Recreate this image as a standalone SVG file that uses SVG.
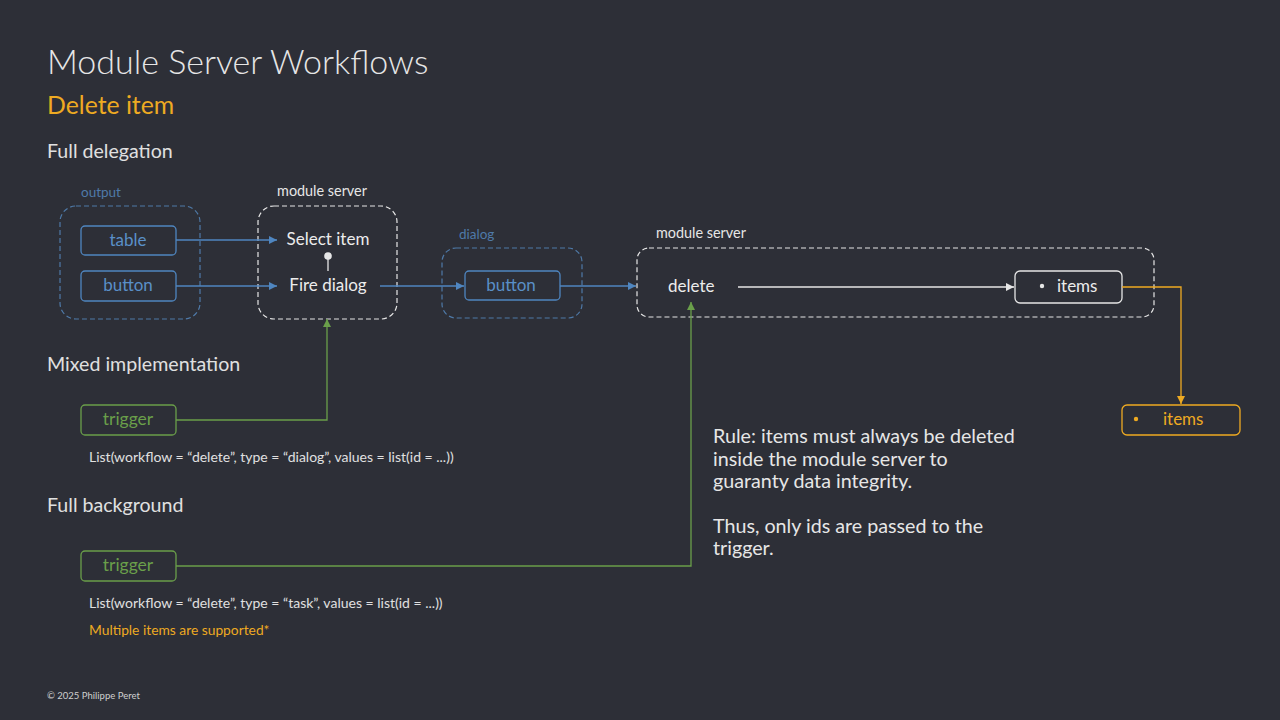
<svg xmlns="http://www.w3.org/2000/svg" width="1280" height="720" viewBox="0 0 1280 720">
<defs>
<style>
text{font-family:Lato,"Noto Sans",sans-serif}
.h1{font-size:34px;fill:#e6e6e6;font-weight:300}
.h2{font-size:24.8px;fill:#eeaa22}
.h3{font-size:19.6px;fill:#e0e0e0}
.lblb{font-size:13.5px;fill:#4f7aa8}
.lblw{font-size:14.4px;fill:#e6e6e6}
.grpb{fill:none;stroke:#4f7aa8;stroke-width:1.2;stroke-dasharray:5 3}
.grpw{fill:none;stroke:#e6e6e6;stroke-width:1.2;stroke-dasharray:5 3}
.boxb{fill:none;stroke:#4f86c0;stroke-width:1.3}
.tb{font-size:17px;fill:#5a8fc8;text-anchor:middle}
.tw{font-size:17px;fill:#ececec}
.boxg{fill:none;stroke:#6a9f4a;stroke-width:1.3}
.tg{font-size:17.5px;fill:#6a9f4a;text-anchor:middle}
.boxw{fill:none;stroke:#e6e6e6;stroke-width:1.3}
.boxo{fill:none;stroke:#eeaa22;stroke-width:1.3}
.to{font-size:17px;fill:#eeaa22}
.code{font-size:14px;fill:#e0e0e0}
.note{font-size:13.8px;fill:#eeaa22}
.rule{font-size:19.7px;fill:#e6e6e6}
.cb{fill:none;stroke:#4f86c0;stroke-width:1.3}
.cg{fill:none;stroke:#6a9f4a;stroke-width:1.3}
.cw{fill:none;stroke:#e6e6e6;stroke-width:1.3}
.co{fill:none;stroke:#eeaa22;stroke-width:1.3}
</style>
<marker id="ab" viewBox="0 0 10 10" refX="10" refY="5" markerWidth="8" markerHeight="8" markerUnits="userSpaceOnUse" orient="auto"><path d="M0,0L10,5L0,10z" fill="#4f86c0"/></marker>
<marker id="ag" viewBox="0 0 10 10" refX="10" refY="5" markerWidth="8" markerHeight="8" markerUnits="userSpaceOnUse" orient="auto"><path d="M0,0L10,5L0,10z" fill="#6a9f4a"/></marker>
<marker id="aw" viewBox="0 0 10 10" refX="10" refY="5" markerWidth="8" markerHeight="8" markerUnits="userSpaceOnUse" orient="auto"><path d="M0,0L10,5L0,10z" fill="#e6e6e6"/></marker>
<marker id="ao" viewBox="0 0 10 10" refX="10" refY="5" markerWidth="8" markerHeight="8" markerUnits="userSpaceOnUse" orient="auto"><path d="M0,0L10,5L0,10z" fill="#eeaa22"/></marker>
</defs>
<rect width="1280" height="720" fill="#2d2f37"/>

<text class="h1" x="47" y="74">Module Server Workflows</text>
<text class="h2" x="47" y="114">Delete item</text>
<text class="h3" x="47" y="158">Full delegation</text>
<text class="h3" x="47" y="371">Mixed implementation</text>
<text class="h3" x="47" y="512">Full background</text>

<g id="output-group">
<text class="lblb" x="81" y="197">output</text>
<rect class="grpb" x="60" y="206" width="140" height="113" rx="16"/>
</g>
<g id="table">
<rect class="boxb" x="81" y="226" width="95" height="29" rx="4"/>
<text class="tb" x="128" y="246">table</text>
</g>
<g id="button-output">
<rect class="boxb" x="81" y="271" width="95" height="30" rx="4"/>
<text class="tb" x="128" y="291">button</text>
</g>

<g id="module-server-1">
<text class="lblw" x="322" y="196" text-anchor="middle">module server</text>
<rect class="grpw" x="258" y="206" width="139" height="113" rx="16"/>
<text class="tw" x="328" y="245" text-anchor="middle">Select item</text>
<text class="tw" x="328" y="291" text-anchor="middle">Fire dialog</text>
<line x1="328" y1="256" x2="328" y2="271" stroke="#e6e6e6" stroke-width="1.3"/>
<circle cx="328" cy="256" r="3.8" fill="#e6e6e6"/>
</g>

<g id="dialog-group">
<text class="lblb" x="459" y="239">dialog</text>
<rect class="grpb" x="442" y="248" width="140" height="70" rx="14"/>
</g>
<g id="button-dialog">
<rect class="boxb" x="465" y="271" width="95" height="29" rx="4"/>
<text class="tb" x="511" y="291">button</text>
</g>

<g id="module-server-2">
<text class="lblw" x="656" y="238">module server</text>
<rect class="grpw" x="637" y="248" width="517" height="69" rx="12"/>
<text class="tw" x="668" y="292">delete</text>
</g>
<g id="items-white">
<rect class="boxw" x="1015" y="271" width="107" height="32" rx="5"/>
<circle cx="1042" cy="286" r="2.2" fill="#e6e6e6"/>
<text class="tw" x="1057" y="292">items</text>
</g>
<g id="items-orange">
<rect class="boxo" x="1122" y="405" width="118" height="30" rx="5"/>
<circle cx="1136" cy="419" r="2.2" fill="#eeaa22"/>
<text class="to" x="1163" y="425">items</text>
</g>

<g id="trigger-mixed">
<rect class="boxg" x="81" y="405" width="95" height="30" rx="4"/>
<text class="tg" x="128" y="425">trigger</text>
</g>
<g id="trigger-background">
<rect class="boxg" x="81" y="551" width="95" height="30" rx="4"/>
<text class="tg" x="128" y="571">trigger</text>
</g>

<g id="connectors">
<line class="cb" x1="176" y1="240" x2="277" y2="240" marker-end="url(#ab)"/>
<line class="cb" x1="176" y1="286" x2="277" y2="286" marker-end="url(#ab)"/>
<line class="cb" x1="380" y1="286" x2="464" y2="286" marker-end="url(#ab)"/>
<line class="cb" x1="560" y1="286" x2="636" y2="286" marker-end="url(#ab)"/>
<line class="cw" x1="738" y1="287" x2="1014" y2="287" marker-end="url(#aw)"/>
<polyline class="co" points="1122,287 1181,287 1181,404" marker-end="url(#ao)"/>
<polyline class="cg" points="176,420 327,420 327,319" marker-end="url(#ag)"/>
<polyline class="cg" points="176,566 691,566 691,302" marker-end="url(#ag)"/>
</g>

<text class="code" x="89" y="462">List(workflow = “delete”, type = “dialog”, values = list(id = ...))</text>
<text class="code" x="89" y="608">List(workflow = “delete”, type = “task”, values = list(id = ...))</text>
<text class="note" x="89" y="635">Multiple items are supported*</text>

<g id="rule-text">
<text class="rule" x="713" y="443">Rule: items must always be deleted</text>
<text class="rule" x="713" y="466">inside the module server to</text>
<text class="rule" x="713" y="488">guaranty data integrity.</text>
<text class="rule" x="713" y="533">Thus, only ids are passed to the</text>
<text class="rule" x="713" y="555">trigger.</text>
</g>

<text x="47" y="699" font-size="9.5" fill="#cfcfcf">© 2025 Philippe Peret</text>
</svg>
